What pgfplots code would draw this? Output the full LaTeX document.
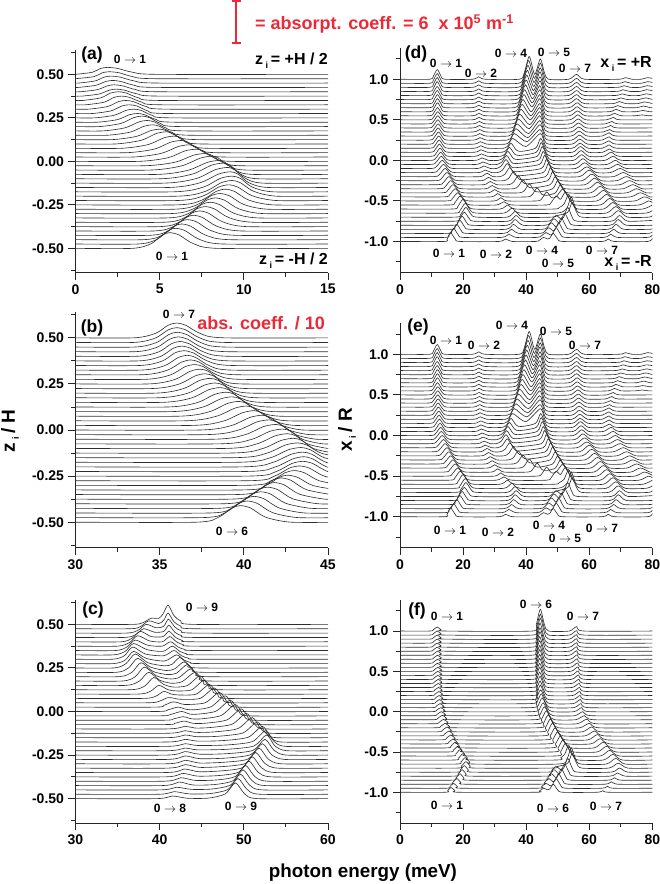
\documentclass[border=0pt]{standalone}
\usepackage{pgfplots}
\pgfplotsset{compat=1.18}
\usepackage{fontspec}
\setmainfont{Liberation Sans}
\definecolor{rd}{RGB}{237,40,55}
\definecolor{cv}{gray}{0.18}
\newcommand\W[2]{\addplot[cv,line width=.62pt,smooth,tension=.45,mark=none] table[row sep=\\,x index=0,y expr=\thisrowno{1}+#1]{#2};}
\newcommand\T[4][12]{\node[inner sep=0pt,font=\bfseries\fontsize{#1}{#1}\selectfont] at (#2pt,{884pt-#3pt}) {#4};}
\newcommand\Z{0 $\rightarrow$ }
\newcommand\Si{\,{\fontsize{9}{9}\selectfont\raisebox{-4pt}{i}}\,}
\pgfplotsset{pan/.style={scale only axis,anchor=south west,axis x line*=bottom,axis y line*=left,
 axis line style={-,black!85,line width=1pt},tick style={black!85,line width=.9pt},tick align=outside,
 major tick length=7pt,minor tick length=4pt,
 tick label style={font=\bfseries\fontsize{14}{14}\selectfont},/pgf/number format/assume math mode=true,
 xticklabel style={yshift=-1pt},yticklabel style={xshift=-1pt},
 scaled ticks=false},
 left/.style={pan,width=252.5pt,ymin=-.64,ymax=.64,ytick={-.5,-.25,0,.25,.5},
 minor ytick={-.625,-.375,-.125,.125,.375,.625},yticklabel style={/pgf/number format/fixed,/pgf/number format/fixed zerofill,/pgf/number format/precision=2}},
 right/.style={pan,width=252.3pt,xmin=0,xmax=80,ymin=-1.385,ymax=1.385,xtick={0,20,40,60,80},minor xtick={10,30,50,70},
 ytick={-1,-.5,0,.5,1},minor ytick={-1.25,-.75,-.25,.25,.75,1.25},yticklabel style={/pgf/number format/fixed,/pgf/number format/fixed zerofill,/pgf/number format/precision=1}}}
\newcommand\dataD{%
\W{1}{0 0\\9.4 0\\10.6 .04\\11.8 .12\\13 .04\\14.2 0\\23 0\\25 .03\\27 0\\37.8 0\\39.4 .08\\41 .28\\42.7 .06\\44.5 .25\\45.8 .08\\47.1 0\\53.5 0\\56 .06\\58.5 0\\69.5 0\\71.5 .02\\73.5 0\\76.5 0\\78.5 .02\\80 .01\\}
\W{.95}{0 0\\9.4 0\\10.6 .04\\11.8 .12\\13 .04\\14.2 0\\23 0\\25 .03\\27 0\\37.6 0\\39.2 .08\\40.8 .28\\42.6 .06\\44.5 .25\\45.8 .08\\47.1 0\\53.5 0\\56 .06\\58.5 0\\69.3 0\\71.3 .02\\73.3 0\\76.5 0\\78.5 .02\\80 .01\\}
\W{.9}{0 0\\9.4 0\\10.6 .04\\11.8 .12\\13 .04\\14.2 0\\23 0\\25 .03\\27 0\\37.4 0\\39 .08\\40.6 .27\\42.5 .06\\44.5 .24\\45.8 .07\\47.1 0\\53.5 0\\56 .06\\58.5 0\\69 0\\71 .02\\73 0\\76.3 0\\78.3 .02\\80 .01\\}
\W{.85}{0 0\\9.4 0\\10.6 .04\\11.8 .12\\13 .04\\14.2 0\\23 0\\25 .03\\27 0\\37.2 0\\38.8 .08\\40.4 .26\\42.4 .06\\44.4 .24\\45.7 .07\\47 0\\53.5 0\\56 .06\\58.5 0\\68.7 0\\70.7 .02\\72.7 0\\76.1 0\\78.1 .02\\80 .01\\}
\W{.8}{0 0\\9.4 0\\10.6 .04\\11.8 .11\\13 .04\\14.2 0\\23 0\\25 .03\\27 0\\37 0\\38.6 .07\\40.2 .25\\42.3 .06\\44.4 .23\\45.7 .07\\47 0\\53.5 0\\56 .06\\58.5 0\\68.4 0\\70.4 .02\\72.4 0\\76 0\\78 .02\\80 .005\\}
\W{.75}{0 0\\9.4 0\\10.6 .04\\11.8 .11\\13 .04\\14.2 0\\23 0\\25 .03\\27 0\\36.8 0\\38.4 .07\\40 .24\\42.2 .06\\44.4 .23\\45.7 .07\\47 0\\53.5 0\\56 .06\\58.5 0\\68 0\\70 .02\\72 0\\75.8 0\\77.8 .02\\80 0\\}
\W{.7}{0 0\\9.5 0\\10.7 .04\\11.9 .11\\13.1 .04\\14.3 0\\23 0\\25 .03\\27 0\\36.6 0\\38.2 .07\\39.8 .23\\42 .06\\44.3 .22\\45.6 .07\\46.9 0\\53.5 0\\56 .06\\58.5 0\\67.5 0\\69.5 .025\\71.5 0\\75.5 0\\77.5 .02\\80 0\\}
\W{.65}{0 0\\9.5 0\\10.7 .04\\11.9 .11\\13.1 .04\\14.3 0\\23 0\\25 .03\\27 0\\36.3 0\\37.9 .07\\39.5 .22\\41.9 .06\\44.3 .22\\45.6 .07\\46.9 0\\53.7 0\\56.2 .06\\58.7 0\\67 0\\69 .025\\71 0\\75.2 0\\77.2 .02\\79.2 0\\80 0\\}
\W{.6}{0 0\\9.5 0\\10.7 .04\\11.9 .11\\13.1 .04\\14.3 0\\23 0\\25 .03\\27 0\\36.1 0\\37.7 .06\\39.3 .21\\41.8 .06\\44.3 .21\\45.6 .06\\46.9 0\\53.7 0\\56.2 .06\\58.7 0\\66.5 0\\68.5 .03\\70.5 0\\75 0\\77 .015\\79 0\\80 0\\}
\W{.55}{0 0\\9.3 0\\10.6 .03\\11.9 .1\\13.2 .03\\14.5 0\\23.1 0\\25.1 .03\\27.1 0\\36 0\\37.5 .06\\39 .2\\41.6 .05\\44.3 .21\\45.6 .06\\46.9 0\\53.8 0\\56.3 .06\\58.8 0\\66 0\\68 .03\\70 0\\74.7 0\\76.7 .01\\78.7 0\\80 0\\}
\W{.5}{0 0\\9.2 0\\10.6 .03\\12 .1\\13.4 .03\\14.8 0\\23.1 0\\25.1 .03\\27.1 0\\35.9 0\\37.3 .06\\38.7 .19\\41.5 .05\\44.3 .2\\45.6 .06\\46.9 0\\53.9 0\\56.4 .06\\58.9 0\\65.6 0\\67.6 .03\\69.6 0\\80 0\\}
\W{.45}{0 0\\9.2 0\\10.6 .03\\12 .1\\13.4 .03\\14.8 0\\23.2 0\\25.2 .03\\27.2 0\\35.6 0\\37 .05\\38.4 .18\\41.3 .05\\44.3 .2\\45.6 .06\\46.9 0\\54 0\\56.5 .06\\59 0\\65.2 0\\67.2 .03\\69.2 0\\80 0\\}
\W{.4}{0 0\\9.2 0\\10.6 .03\\12 .1\\13.4 .03\\14.8 0\\23.2 0\\25.2 .03\\27.2 0\\35.2 0\\36.6 .05\\38 .17\\41.1 .04\\44.3 .2\\45.6 .06\\46.9 0\\54.1 0\\56.6 .06\\59.1 0\\64.8 0\\66.8 .03\\68.8 0\\80 0\\}
\W{.35}{0 0\\9.3 0\\10.7 .03\\12.1 .1\\13.5 .03\\14.9 0\\23.3 0\\25.3 .03\\27.3 0\\34.8 0\\36.2 .05\\37.6 .16\\40.9 .04\\44.3 .2\\45.6 .06\\46.9 0\\54.2 0\\56.7 .06\\59.2 0\\64.5 0\\66.5 .03\\68.5 0\\80 0\\}
\W{.3}{0 0\\9.3 0\\10.7 .03\\12.1 .1\\13.5 .03\\14.9 0\\23.3 0\\25.3 .03\\27.3 0\\34.4 0\\35.8 .05\\37.2 .15\\40.7 .03\\44.3 .19\\45.6 .06\\46.9 0\\54.3 0\\56.8 .06\\59.3 0\\64.1 0\\66.3 .04\\68.5 0\\80 0\\}
\W{.25}{0 0\\9.4 0\\10.8 .03\\12.2 .1\\13.6 .03\\15 0\\23.4 0\\25.4 .03\\27.4 0\\34 0\\35.4 .04\\36.8 .14\\40.5 .03\\44.4 .19\\45.7 .06\\47 0\\54.4 0\\56.9 .06\\59.4 0\\64.1 0\\66.3 .04\\68.5 0\\80 0\\}
\W{.2}{0 0\\9.5 0\\10.9 .03\\12.3 .1\\13.7 .03\\15.1 0\\23.5 0\\25.5 .03\\27.5 0\\33.5 0\\34.9 .04\\36.3 .13\\40.2 .03\\44.4 .18\\45.8 .05\\47.2 0\\54.5 0\\57 .06\\59.5 0\\64.1 0\\66.3 .04\\68.5 0\\80 0\\}
\W{.15}{0 0\\9.6 0\\11 .03\\12.4 .1\\13.8 .03\\15.2 0\\23.6 0\\25.6 .03\\27.6 0\\33 0\\34.4 .04\\35.8 .12\\39.9 .02\\44.5 .18\\45.9 .05\\47.3 0\\54.6 0\\57.1 .06\\59.6 0\\64.2 0\\66.4 .04\\68.6 0\\80 0\\}
\W{.1}{0 0\\9.7 0\\11.1 .03\\12.5 .1\\13.9 .03\\15.3 0\\23.7 0\\25.7 .03\\27.7 0\\32.4 0\\33.8 .03\\35.2 .11\\36.8 .03\\38.4 .01\\43 .05\\44.6 .17\\46.1 .05\\47.6 0\\54.7 0\\57.2 .07\\59.7 0\\64.3 0\\66.5 .04\\68.7 0\\80 0\\}
\W{.05}{0 0\\9.9 0\\11.3 .03\\12.7 .1\\14.1 .03\\15.5 0\\23.8 0\\25.8 .03\\27.8 0\\31.9 0\\33.3 .03\\34.7 .11\\36.3 .03\\37.9 .01\\43.2 .05\\44.8 .17\\46.3 .05\\47.8 0\\54.9 0\\57.4 .07\\59.9 0\\64.5 0\\67 .05\\69.5 0\\80 0\\}
\W{0}{0 0\\9.9 0\\11.4 .03\\12.9 .1\\14.4 .03\\15.9 0\\24 0\\26 .03\\28 0\\31.2 0\\32.7 .03\\34.2 .11\\35.8 .03\\37.4 .01\\43.5 .05\\45.1 .17\\46.7 .05\\48.3 0\\55 0\\57.6 .07\\60.2 0\\65 0\\67.6 .05\\70.2 0\\80 0\\}
\W{-.05}{0 0\\9.9 0\\11.5 .03\\13.1 .1\\14.7 .03\\16.3 0\\24.3 0\\26.3 .03\\28.3 0\\30.8 0\\32.3 .03\\33.8 .11\\35.3 .03\\36.8 .01\\43.8 .05\\45.4 .16\\47 .05\\48.6 0\\55.4 0\\58 .07\\60.6 0\\65.7 0\\68.3 .05\\70.9 0\\80 0\\}
\W{-.1}{0 0\\10 0\\11.7 .03\\13.4 .1\\15.1 .03\\16.8 0\\24.6 0\\26.6 .03\\28.6 0\\30.6 0\\32.1 .03\\33.6 .11\\35.1 .03\\36.6 .01\\44.2 .05\\45.8 .16\\47.4 .05\\49 0\\55.7 0\\58.5 .07\\61.3 0\\66.2 0\\69 .05\\71.8 0\\80 0\\}
\W{-.15}{0 0\\10.4 0\\12.1 .03\\13.8 .1\\15.5 .03\\17.2 0\\25 0\\27 .03\\29 0\\31 0\\32.5 .03\\34 .11\\35.5 .03\\37 .01\\44.8 .05\\46.4 .16\\48 .05\\49.6 0\\56.2 0\\59.2 .07\\62.2 0\\66.8 0\\69.8 .05\\72.8 0\\80 0\\}
\W{-.2}{0 0\\10.9 0\\12.6 .03\\14.3 .1\\16 .03\\17.7 0\\25.5 0\\27.5 .04\\29.5 0\\31.8 0\\33.3 .03\\34.8 .11\\36.3 .03\\37.8 .01\\45.4 .05\\47 .16\\48.6 .05\\50.2 0\\57 0\\60 .08\\63 0\\67.8 0\\70.8 .05\\73.8 0\\80 0\\}
\W{-.25}{0 0\\11.5 0\\13.2 .03\\14.9 .1\\16.6 .03\\18.3 0\\26 0\\28 .04\\30 0\\33 0\\34.5 .03\\36 .11\\37.5 .03\\39 .01\\46.1 .05\\47.7 .16\\49.3 .05\\50.9 0\\57.8 0\\60.8 .08\\63.8 0\\68.8 0\\71.8 .05\\74.8 0\\80 0\\}
\W{-.3}{0 0\\12.1 0\\13.8 .03\\15.5 .1\\17.2 .03\\18.9 0\\26.6 0\\28.6 .04\\30.6 0\\34.5 0\\36 .03\\37.5 .11\\39 .03\\40.5 .01\\46.8 .05\\48.4 .16\\50 .05\\51.6 0\\58.7 0\\61.7 .08\\64.7 0\\69.8 0\\72.8 .05\\75.8 0\\80 0\\}
\W{-.35}{0 0\\12.7 0\\14.4 .03\\16.1 .1\\17.8 .03\\19.5 0\\27.2 0\\29.2 .04\\31.2 0\\36 0\\37.5 .03\\39 .11\\40.5 .03\\42 .01\\47.6 .05\\49.2 .15\\50.8 .05\\52.4 0\\59.6 0\\62.6 .08\\65.6 0\\70.8 0\\73.8 .05\\76.8 0\\80 0\\}
\W{-.4}{0 0\\13.4 0\\15.1 .03\\16.8 .1\\18.5 .03\\20.2 0\\28 0\\30 .04\\32 0\\38 0\\39.5 .03\\41 .11\\42.5 .03\\44 .01\\48.4 .05\\50 .15\\51.6 .05\\53.2 0\\60.5 0\\63.5 .08\\66.5 0\\72 0\\75 .05\\78 0\\80 0\\}
\W{-.45}{0 0\\14.1 0\\15.8 .03\\17.5 .1\\19.2 .03\\20.9 0\\29 0\\31 .04\\33 0\\40.5 0\\42 .03\\43.5 .11\\45 .03\\46.6 .02\\49.3 .05\\50.9 .15\\52.5 .05\\54.1 0\\61.5 0\\64.5 .08\\67.5 0\\73.2 0\\76.2 .05\\79.2 0\\80 0\\}
\W{-.5}{0 0\\14.9 0\\16.6 .03\\18.3 .1\\20 .03\\21.7 0\\30 0\\32 .04\\34 0\\43.5 0\\45 .03\\46.5 .11\\48 .04\\49.5 .05\\51.7 .15\\53.3 .05\\54.9 0\\62.5 0\\65.5 .08\\68.5 0\\74.5 0\\77.5 .05\\80 .01\\}
\W{-.55}{0 0\\15.7 0\\17.4 .03\\19.1 .11\\20.8 .03\\22.5 0\\30.6 0\\33 .04\\35.4 0\\46.5 0\\48 .035\\49.5 .11\\50.9 .07\\52.5 .16\\54 .05\\55.6 0\\63.5 0\\66.5 .08\\69.5 0\\75.8 0\\78.8 .05\\80 .03\\}
\W{-.6}{0 0\\16.6 0\\18.3 .03\\20 .12\\21.7 .03\\23.4 0\\31.8 0\\34.2 .05\\36.6 0\\49 0\\50.5 .02\\52 .06\\53.5 .18\\54.9 .05\\56.5 0\\64.5 0\\67.5 .08\\70.5 0\\77 0\\80 .05\\}
\W{-.65}{0 0\\17.3 0\\19 .03\\20.7 .12\\22.4 .03\\24.1 0\\33 0\\35.5 .06\\38 0\\50 0\\52.9 .06\\54.3 .2\\55.7 .06\\57.3 0\\65.4 0\\68.4 .08\\71.4 0\\78 0\\80 .03\\}
\W{-.7}{0 0\\17.5 0\\19.2 .03\\20.9 .12\\22.6 .03\\24.3 0\\34 0\\36.5 .07\\39 0\\48 0\\50 .02\\53.2 .06\\54.6 .18\\56 .06\\57.6 0\\66.2 0\\69.2 .08\\72.2 0\\79 0\\80 .02\\}
\W{-.75}{0 0\\17.3 0\\18.8 .03\\20.4 .11\\22 .03\\23.5 0\\34.3 0\\36.8 .07\\39.3 0\\46.7 0\\48.1 .02\\49.5 .07\\51 .03\\51.9 .05\\53.2 .17\\54.6 .05\\56.2 0\\67 0\\69.6 .07\\72.2 0\\80 .01\\}
\W{-.8}{0 0\\16.7 0\\18.2 .03\\19.7 .11\\21.2 .03\\22.7 0\\34 0\\36.5 .07\\39 0\\46 0\\47.4 .02\\48.8 .08\\50.3 .03\\51 .05\\52.2 .15\\53.6 .05\\55.2 0\\66.6 0\\69.2 .07\\71.8 0\\80 0\\}
\W{-.85}{0 0\\16 0\\17.5 .03\\19 .11\\20.5 .03\\22 0\\33.6 0\\36 .06\\38.4 0\\45.2 0\\46.6 .02\\48 .08\\49.4 .03\\50 .05\\51.2 .14\\52.6 .04\\54.2 0\\66 0\\68.5 .06\\71 0\\79.2 0\\80 .01\\}
\W{-.9}{0 0\\15 0\\16.5 .03\\18 .11\\19.5 .03\\21 0\\33 0\\35.3 .05\\37.6 0\\44.4 0\\45.8 .02\\47.2 .07\\48.5 .03\\49.1 .04\\50.3 .13\\51.7 .04\\53.3 0\\65.3 0\\67.7 .05\\70.1 0\\78.8 0\\80 .02\\}
\W{-.95}{0 0\\14.2 0\\15.6 .03\\17 .11\\18.5 .03\\20 0\\32.2 0\\34.5 .04\\36.8 0\\43.5 0\\44.9 .02\\46.3 .06\\47.6 .03\\48.3 .04\\49.5 .12\\50.9 .04\\52.5 0\\64.6 0\\66.8 .04\\69 0\\78.5 0\\80 .03\\}
\W{-1}{0 0\\14 0\\14.9 .025\\16 .11\\17.5 .03\\19 0\\31.3 0\\33.5 .03\\35.7 0\\43 0\\44.2 .015\\45.5 .05\\46.8 .03\\47.5 .04\\48.6 .1\\50 .03\\51.6 0\\64 0\\66 .03\\68 0\\78.5 0\\80 .04\\}
}
\begin{document}
\begin{tikzpicture}[x=1pt,y=1pt]
\useasboundingbox (0,0) rectangle (660pt,884pt);
% ---------- (a)
\begin{axis}[left,at={(75.5pt,611.3pt)},height=222.7pt,xmin=0,xmax=15,xtick={0,5,10,15},minor xtick={2.5,7.5,12.5}]
\W{.5}{0 0\\1 .012\\1.5 .034\\1.9 .04\\2.5 .034\\3.4 .012\\4.9 0\\15 0\\}
\W{.475}{0 0\\1.1 .012\\1.6 .034\\2 .04\\2.6 .034\\3.4 .012\\4.8 0\\15 0\\}
\W{.45}{0 0\\0.2 0\\1.15 .012\\1.7 .034\\2.1 .04\\2.65 .034\\3.5 .012\\4.9 0\\15 0\\}
\W{.425}{0 0\\0.2 0\\1.2 .012\\1.8 .034\\2.2 .04\\2.7 .034\\3.5 .012\\4.8 0\\15 0\\}
\W{.4}{0 0\\0.3 0\\1.3 .012\\1.9 .034\\2.3 .04\\2.8 .034\\3.6 .012\\4.9 0\\15 0\\}
\W{.375}{0 0\\0.4 0\\1.4 .012\\2 .034\\2.4 .04\\2.9 .034\\3.7 .012\\5 0\\15 0\\}
\W{.35}{0 0\\0.45 0\\1.5 .015\\2.1 .043\\2.55 .05\\3 .043\\3.75 .015\\4.95 0\\15 0\\}
\W{.325}{0 0\\0.6 0\\1.7 .015\\2.3 .043\\2.75 .05\\3.2 .043\\3.95 .015\\5.1 0\\15 0\\}
\W{.3}{0 0\\0.8 0\\1.9 .015\\2.55 .043\\3 .05\\3.45 .043\\4.2 .015\\5.4 0\\15 0\\}
\W{.275}{0 0\\1 0\\2.1 .015\\2.75 .043\\3.2 .05\\3.65 .043\\4.3 .015\\5.4 0\\15 0\\}
\W{.25}{0 0\\1.15 0\\2.3 .015\\3 .043\\3.45 .05\\3.9 .043\\4.55 .015\\5.65 0\\15 0\\}
\W{.225}{0 0\\1.3 0\\2.5 .015\\3.2 .043\\3.7 .05\\4.1 .043\\4.8 .015\\5.9 0\\15 0\\}
\W{.2}{0 0\\1.45 0\\2.7 .018\\3.45 .051\\3.95 .06\\4.4 .051\\5.05 .018\\6.15 0\\15 0\\}
\W{.175}{0 0\\1.65 0\\2.95 .018\\3.75 .051\\4.25 .06\\4.7 .051\\5.35 .018\\6.45 0\\15 0\\}
\W{.15}{0 0\\1.9 0\\3.25 .018\\4.05 .051\\4.6 .06\\5 .051\\5.7 .018\\6.8 0\\15 0\\}
\W{.125}{0 0\\2.2 0\\3.6 .018\\4.45 .051\\5 .06\\5.4 .051\\6.1 .018\\7.2 0\\15 0\\}
\W{.1}{0 0\\2.4 0\\3.9 .021\\4.8 .06\\5.4 .07\\5.8 .06\\6.4 .021\\7.4 0\\15 0\\}
\W{.075}{0 0\\2.75 0\\4.3 .021\\5.25 .06\\5.85 .07\\6.25 .06\\6.85 .021\\7.85 0\\15 0\\}
\W{.05}{0 0\\3.1 0\\4.7 .021\\5.65 .06\\6.3 .07\\6.7 .06\\7.3 .021\\8.3 0\\15 0\\}
\W{.025}{0 0\\3.45 0\\5.1 .021\\6.1 .06\\6.75 .07\\7.15 .06\\7.75 .021\\8.75 0\\15 0\\}
\W{0}{0 0\\3.8 0\\5.5 .021\\6.5 .06\\7.2 .07\\7.6 .06\\8.2 .021\\9.2 0\\15 0\\}
\W{-.025}{0 0\\4.2 0\\5.95 .021\\7 .06\\7.7 .07\\8.1 .06\\8.7 .021\\9.7 0\\15 0\\}
\W{-.05}{0 0\\4.5 0\\6.3 .024\\7.4 .068\\8.1 .08\\8.5 .068\\9.1 .024\\10.1 0\\15 0\\}
\W{-.075}{0 0\\4.9 0\\6.7 .024\\7.8 .068\\8.5 .08\\8.9 .068\\9.5 .024\\10.5 0\\15 0\\}
\W{-.1}{0 0\\5.1 0\\6.95 .027\\8.05 .077\\8.8 .09\\9.2 .077\\9.8 .027\\10.8 0\\15 0\\}
\W{-.125}{0 0\\5.35 0\\7.2 .027\\8.3 .077\\9.05 .09\\9.45 .077\\10.1 .027\\11.1 0\\15 0\\}
\W{-.15}{0 0\\5.6 0\\7.4 .027\\8.5 .077\\9.2 .09\\9.65 .077\\10.3 .027\\11.4 0\\15 0\\}
\W{-.175}{0 0\\5.9 0\\7.6 .027\\8.6 .077\\9.3 .09\\9.8 .077\\10.5 .027\\11.7 0\\15 0\\}
\W{-.2}{0 0\\6.1 0\\7.7 .027\\8.65 .077\\9.3 .09\\9.8 .077\\10.6 .027\\11.9 0\\15 0\\}
\W{-.225}{0 0\\6.1 0\\7.6 .027\\8.5 .077\\9.1 .09\\9.65 .077\\10.5 .027\\11.9 0\\15 0\\}
\W{-.25}{0 0\\6.1 0\\7.5 .027\\8.35 .077\\8.9 .09\\9.45 .077\\10.3 .027\\11.7 0\\15 0\\}
\W{-.275}{0 0\\5.9 0\\7.25 .027\\8.05 .077\\8.6 .09\\9.15 .077\\10 .027\\11.4 0\\15 0\\}
\W{-.3}{0 0\\5.7 0\\7 .027\\7.8 .077\\8.3 .09\\8.85 .077\\9.7 .027\\11.1 0\\15 0\\}
\W{-.325}{0 0\\5.5 0\\6.75 .027\\7.5 .077\\8 .09\\8.55 .077\\9.4 .027\\10.8 0\\15 0\\}
\W{-.35}{0 0\\5.3 0\\6.5 .027\\7.2 .077\\7.7 .09\\8.25 .077\\9.1 .027\\10.5 0\\15 0\\}
\W{-.375}{0 0\\5.05 0\\6.2 .027\\6.9 .077\\7.35 .09\\7.9 .077\\8.75 .027\\10.15 0\\15 0\\}
\W{-.4}{0 0\\4.7 0\\5.85 .027\\6.55 .077\\7 .09\\7.55 .077\\8.4 .027\\9.8 0\\15 0\\}
\W{-.425}{0 0\\4.45 0\\5.55 .027\\6.2 .077\\6.65 .09\\7.2 .077\\8.05 .027\\9.45 0\\15 0\\}
\W{-.45}{0 0\\4.1 0\\5.2 .027\\5.85 .077\\6.3 .09\\6.85 .077\\7.7 .027\\9.1 0\\15 0\\}
\W{-.475}{0 0\\3.75 0\\4.85 .027\\5.5 .077\\5.95 .09\\6.5 .077\\7.35 .027\\8.75 0\\15 0\\}
\W{-.5}{0 0\\3.4 0\\4.5 .027\\5.15 .077\\5.6 .09\\6.15 .077\\7 .027\\8.4 0\\15 0\\}
\end{axis}
% ---------- (b)
\begin{axis}[left,at={(75.5pt,336pt)},height=236pt,xmin=30,xmax=45,xtick={30,35,40,45},minor xtick={32.5,37.5,42.5}]
\W{.5}{30 0\\33.5 0\\34.75 .024\\35.5 .068\\36 .08\\36.55 .068\\37.4 .024\\38.8 0\\46 0\\}
\W{.475}{30 0\\33.5 0\\34.75 .024\\35.5 .068\\36 .08\\36.55 .068\\37.4 .024\\38.8 0\\46 0\\}
\W{.45}{30 0\\33.55 0\\34.8 .024\\35.55 .068\\36.05 .08\\36.6 .068\\37.45 .024\\38.85 0\\46 0\\}
\W{.425}{30 0\\33.6 0\\34.85 .024\\35.6 .068\\36.1 .08\\36.65 .068\\37.5 .024\\38.9 0\\46 0\\}
\W{.4}{30 0\\33.7 0\\34.95 .024\\35.7 .068\\36.2 .08\\36.75 .068\\37.6 .024\\39 0\\46 0\\}
\W{.375}{30 0\\33.8 0\\35.05 .024\\35.8 .068\\36.3 .08\\36.85 .068\\37.7 .024\\39.1 0\\46 0\\}
\W{.35}{30 0\\33.85 0\\35.15 .024\\35.9 .068\\36.45 .08\\37 .068\\37.85 .024\\39.25 0\\46 0\\}
\W{.325}{30 0\\33.95 0\\35.3 .024\\36.1 .068\\36.65 .08\\37.15 .068\\37.95 .024\\39.25 0\\46 0\\}
\W{.3}{30 0\\34.05 0\\35.45 .024\\36.3 .068\\36.85 .08\\37.35 .068\\38.15 .024\\39.45 0\\46 0\\}
\W{.275}{30 0\\34.2 0\\35.65 .024\\36.5 .068\\37.1 .08\\37.6 .068\\38.4 .024\\39.7 0\\46 0\\}
\W{.25}{30 0\\34.4 0\\35.9 .024\\36.8 .068\\37.4 .08\\37.9 .068\\38.6 .024\\39.8 0\\46 0\\}
\W{.225}{30 0\\34.6 0\\36.15 .024\\37.1 .068\\37.7 .08\\38.2 .068\\38.9 .024\\40.1 0\\46 0\\}
\W{.2}{30 0\\34.8 0\\36.4 .024\\37.35 .068\\38 .08\\38.5 .068\\39.2 .024\\40.4 0\\46 0\\}
\W{.175}{30 0\\35 0\\36.65 .024\\37.65 .068\\38.3 .08\\38.8 .068\\39.5 .024\\40.7 0\\46 0\\}
\W{.15}{30 0\\35.2 0\\36.9 .024\\37.9 .068\\38.6 .08\\39.1 .068\\39.8 .024\\41 0\\46 0\\}
\W{.125}{30 0\\35.55 0\\37.25 .024\\38.25 .068\\38.95 .08\\39.45 .068\\40.15 .024\\41.35 0\\46 0\\}
\W{.1}{30 0\\35.8 0\\37.55 .024\\38.6 .068\\39.3 .08\\39.8 .068\\40.5 .024\\41.7 0\\46 0\\}
\W{.075}{30 0\\36.2 0\\37.95 .024\\39 .068\\39.7 .08\\40.2 .068\\40.9 .024\\42.1 0\\46 0\\}
\W{.05}{30 0\\36.55 0\\38.35 .024\\39.45 .068\\40.15 .08\\40.65 .068\\41.35 .024\\42.55 0\\46 0\\}
\W{.025}{30 0\\37 0\\38.8 .024\\39.9 .068\\40.6 .08\\41.1 .068\\41.8 .024\\43 0\\46 0\\}
\W{0}{30 0\\37.4 0\\39.25 .024\\40.35 .068\\41.1 .08\\41.6 .068\\42.3 .024\\43.5 0\\46 0\\}
\W{-.025}{30 0\\37.8 0\\39.65 .024\\40.75 .068\\41.5 .08\\42 .068\\42.7 .024\\43.9 0\\46 0\\}
\W{-.05}{30 0\\38.2 0\\40.05 .024\\41.15 .068\\41.9 .08\\42.4 .068\\43.1 .024\\44.3 0\\46 0\\}
\W{-.075}{30 0\\38.6 0\\40.45 .024\\41.55 .068\\42.3 .08\\42.8 .068\\43.5 .024\\44.7 0\\46 0\\}
\W{-.1}{30 0\\38.9 0\\40.75 .024\\41.85 .068\\42.6 .08\\43.1 .068\\43.8 .024\\45 0\\46 0\\}
\W{-.125}{30 0\\39.25 0\\41.1 .024\\42.2 .068\\42.95 .08\\43.45 .068\\44.15 .024\\45.35 0\\46 0\\}
\W{-.15}{30 0\\39.5 0\\41.35 .024\\42.45 .068\\43.2 .08\\43.75 .068\\44.6 .024\\46 0\\}
\W{-.175}{30 0\\39.7 0\\41.55 .024\\42.65 .068\\43.4 .08\\43.95 .068\\44.8 .024\\46.2 0\\}
\W{-.2}{30 0\\39.9 0\\41.7 .024\\42.8 .068\\43.5 .08\\44.05 .068\\44.9 .024\\46.3 0\\}
\W{-.225}{30 0\\40.15 0\\41.85 .024\\42.9 .068\\43.55 .08\\44.1 .068\\44.95 .024\\46.35 0\\}
\W{-.25}{30 0\\40.3 0\\41.9 .024\\42.85 .068\\43.5 .08\\44.1 .068\\45 .024\\46.5 0\\}
\W{-.275}{30 0\\40.3 0\\41.8 .024\\42.7 .068\\43.3 .08\\43.9 .068\\44.8 .024\\46.3 0\\}
\W{-.3}{30 0\\40.2 0\\41.6 .024\\42.45 .068\\43 .08\\43.6 .068\\44.5 .024\\46 0\\}
\W{-.325}{30 0\\40 0\\41.3 .024\\42.1 .068\\42.6 .08\\43.2 .068\\44.1 .024\\45.6 0\\46 0\\}
\W{-.35}{30 0\\39.6 0\\40.9 .027\\41.7 .077\\42.2 .09\\42.8 .077\\43.7 .027\\45.2 0\\46 0\\}
\W{-.375}{30 0\\39.2 0\\40.5 .027\\41.3 .077\\41.8 .09\\42.4 .077\\43.3 .027\\44.8 0\\46 0\\}
\W{-.4}{30 0\\38.8 0\\40.1 .027\\40.9 .077\\41.4 .09\\42 .077\\42.9 .027\\44.4 0\\46 0\\}
\W{-.425}{30 0\\38.4 0\\39.7 .027\\40.5 .077\\41 .09\\41.6 .077\\42.5 .027\\44 0\\46 0\\}
\W{-.45}{30 0\\38 0\\39.3 .027\\40.1 .077\\40.6 .09\\41.2 .077\\42.1 .027\\43.6 0\\46 0\\}
\W{-.475}{30 0\\37.6 0\\38.9 .027\\39.7 .077\\40.2 .09\\40.8 .077\\41.7 .027\\43.2 0\\46 0\\}
\W{-.5}{30 0\\37.2 0\\38.5 .027\\39.3 .077\\39.8 .09\\40.4 .077\\41.3 .027\\42.8 0\\46 0\\}
\end{axis}
% ---------- (c)
\begin{axis}[left,at={(75.5pt,61pt)},height=223pt,xmin=30,xmax=60,xtick={30,40,50,60},minor xtick={35,45,55}]
\W{.5}{30 0\\36.8 0\\38 .01\\39 .035\\39.9 .035\\40.4 .06\\41 .11\\41.7 .05\\42.5 .02\\44 0\\60 0\\}
\W{.475}{30 0\\36.5 0\\37.7 .012\\38.7 .045\\39.9 .03\\40.5 .05\\41 .09\\41.7 .04\\42.5 .015\\44 0\\60 0\\}
\W{.45}{30 0\\36 0\\37.4 .015\\38.4 .05\\39.6 .03\\40.5 .04\\41.05 .08\\41.8 .035\\42.6 .012\\44 0\\60 0\\}
\W{.425}{30 0\\35.8 0\\37.1 .015\\38.1 .05\\39.4 .03\\40.5 .035\\41.1 .07\\41.8 .03\\42.6 .01\\44 0\\60 0\\}
\W{.4}{30 0\\35.4 0\\36.7 .02\\37.7 .06\\39 .03\\40.4 .03\\41.1 .06\\41.9 .025\\42.7 .008\\44 0\\60 0\\}
\W{.375}{30 0\\35 0\\36.4 .02\\37.4 .06\\38.8 .03\\40.3 .025\\41.2 .055\\42 .025\\42.8 .008\\44.2 0\\60 0\\}
\W{.35}{30 0\\34.8 0\\36.1 .02\\37.1 .06\\38.6 .03\\40.3 .025\\41.3 .05\\42.2 .02\\43 .006\\44.4 0\\60 0\\}
\W{.325}{30 0\\34.5 0\\35.9 .02\\36.9 .065\\38.5 .03\\40.4 .02\\41.5 .05\\42.4 .02\\43.2 .006\\44.6 0\\60 0\\}
\W{.3}{30 0\\34.4 0\\35.8 .02\\36.8 .07\\38.3 .03\\40.5 .02\\41.7 .05\\42.6 .02\\43.4 .006\\44.8 0\\60 0\\}
\W{.275}{30 0\\34.5 0\\35.9 .02\\36.9 .07\\38.4 .03\\40.6 .015\\42 .05\\42.9 .02\\43.7 .006\\45 0\\60 0\\}
\W{.25}{30 0\\34.6 0\\36 .025\\37.1 .08\\38.6 .03\\40.6 .012\\41.5 .022\\42.4 .06\\43.4 .02\\44.6 0\\60 0\\}
\W{.225}{30 0\\34.9 0\\36.3 .025\\37.4 .08\\38.9 .03\\40.8 .01\\41.8 .02\\42.9 .06\\43.9 .02\\45.1 0\\60 0\\}
\W{.2}{30 0\\35.2 0\\36.7 .025\\37.8 .08\\39.2 .03\\40.9 .012\\42 .02\\43.3 .07\\44.3 .022\\45.5 0\\60 0\\}
\W{.175}{30 0\\35.6 0\\37.1 .025\\38.2 .08\\39.6 .03\\41.1 .012\\42.3 .02\\43.7 .07\\44.7 .022\\45.9 0\\60 0\\}
\W{.15}{30 0\\36 0\\37.6 .025\\38.7 .075\\40 .03\\41.4 .012\\42.7 .022\\44.2 .075\\45.2 .022\\46.4 0\\60 0\\}
\W{.125}{30 0\\36.6 0\\38.2 .02\\39.3 .07\\40.5 .03\\41.7 .015\\43.3 .024\\44.8 .08\\45.8 .024\\47 0\\60 0\\}
\W{.1}{30 0\\37.4 0\\38.9 .016\\39.9 .05\\41 .025\\42 .018\\43.8 .024\\45.3 .08\\46.3 .024\\47.5 0\\60 0\\}
\W{.075}{30 0\\38 0\\39.5 .012\\40.5 .04\\41.4 .025\\42.2 .02\\44.3 .024\\45.9 .08\\46.9 .024\\48.1 0\\60 0\\}
\W{.05}{30 0\\38.6 0\\40 .01\\41 .03\\41.8 .025\\42.5 .02\\44.8 .025\\46.5 .085\\47.5 .025\\48.7 0\\60 0\\}
\W{.025}{30 0\\39.5 0\\40.5 .01\\41.5 .03\\42.2 .025\\43 .015\\45.4 .025\\47.1 .085\\48.1 .025\\49.3 0\\60 0\\}
\W{0}{30 0\\39.8 0\\41 .01\\42.2 .025\\43.2 .012\\44.2 .01\\46.1 .027\\47.8 .09\\48.8 .027\\50 0\\60 0\\}
\W{-.025}{30 0\\40 0\\41.3 .008\\42.6 .025\\43.6 .01\\44.6 .01\\46.7 .027\\48.4 .09\\49.4 .027\\50.6 0\\60 0\\}
\W{-.05}{30 0\\40.5 0\\41.6 .007\\42.8 .02\\43.8 .008\\45 .008\\47.3 .027\\49 .09\\50 .027\\51.2 0\\60 0\\}
\W{-.075}{30 0\\40.7 0\\41.8 .007\\42.9 .02\\44 .007\\45.5 .008\\48 .027\\49.7 .09\\50.7 .027\\51.9 0\\60 0\\}
\W{-.1}{30 0\\41 0\\43 .015\\44.2 .005\\46 .008\\48.6 .027\\50.3 .09\\51.3 .027\\52.5 0\\60 0\\}
\W{-.125}{30 0\\41 0\\43 .015\\44.2 .005\\46.5 .008\\49.3 .027\\51 .09\\52 .027\\53.2 0\\60 0\\}
\W{-.15}{30 0\\41 0\\43 .015\\44.5 .005\\47 .008\\49.9 .027\\51.6 .09\\52.6 .027\\53.8 0\\60 0\\}
\W{-.175}{30 0\\41 0\\43 .015\\44.5 .005\\47.5 .008\\50.5 .027\\52.2 .09\\53.2 .027\\54.4 0\\60 0\\}
\W{-.2}{30 0\\41 0\\43 .015\\44.5 .005\\48 .008\\51 .027\\52.6 .09\\53.6 .027\\54.9 0\\60 0\\}
\W{-.225}{30 0\\41 0\\43 .015\\44.5 .005\\48 .008\\51.2 .027\\52.7 .09\\53.7 .027\\55.1 0\\60 0\\}
\W{-.25}{30 0\\41 0\\43 .02\\44.7 .005\\48 .008\\51.1 .027\\52.5 .09\\53.6 .027\\55 0\\60 0\\}
\W{-.275}{30 0\\41 0\\43 .02\\44.8 .004\\48 .008\\50.8 .027\\52.2 .09\\53.3 .027\\54.8 0\\60 0\\}
\W{-.3}{30 0\\41 0\\43 .02\\44.8 .004\\48 .01\\50.5 .027\\51.8 .09\\52.9 .027\\54.4 0\\60 0\\}
\W{-.325}{30 0\\41 0\\43 .02\\44.8 .004\\47.8 .01\\50.2 .027\\51.4 .09\\52.5 .027\\54 0\\60 0\\}
\W{-.35}{30 0\\41 0\\42.9 .02\\44.7 .004\\47.5 .01\\49.8 .027\\51 .09\\52.1 .027\\53.6 0\\60 0\\}
\W{-.375}{30 0\\40.8 0\\42.7 .02\\44.5 .004\\47.2 .008\\49.4 .027\\50.6 .09\\51.7 .027\\53.2 0\\60 0\\}
\W{-.4}{30 0\\40.6 0\\42.5 .02\\44.3 .004\\47 .008\\49 .027\\50.2 .09\\51.3 .027\\52.8 0\\60 0\\}
\W{-.425}{30 0\\40.4 0\\42.3 .02\\44 .003\\46.6 .006\\48.7 .027\\49.9 .09\\51 .027\\52.5 0\\60 0\\}
\W{-.45}{30 0\\40.1 0\\42 .015\\43.8 .003\\46.2 .005\\48.4 .027\\49.6 .09\\50.7 .027\\52.2 0\\60 0\\}
\W{-.475}{30 0\\39.9 0\\41.7 .015\\43.5 .002\\46 .004\\48.1 .027\\49.3 .09\\50.4 .027\\51.9 0\\60 0\\}
\W{-.5}{30 0\\39.7 0\\41.5 .015\\43.3 .002\\45.8 .003\\47.8 .027\\49 .09\\50.1 .027\\51.6 0\\60 0\\}
\end{axis}
% ---------- (d)
\begin{axis}[right,at={(400pt,611.3pt)},height=224.7pt]
\dataD
\end{axis}
% ---------- (e)
\begin{axis}[right,at={(400pt,336pt)},height=225pt]
\dataD
\end{axis}
% ---------- (f)
\begin{axis}[right,at={(400pt,60.7pt)},height=223.3pt]
\W{1}{0 0\\9.4 0\\10.6 .017\\11.8 .05\\13 .017\\14.2 0\\41.9 0\\43.2 .08\\44.5 .27\\45.8 .08\\47.1 0\\53.7 0\\56 .055\\58.3 0\\80 0\\}
\W{.95}{0 0\\9.4 0\\10.6 .017\\11.8 .05\\13 .017\\14.2 0\\41.9 0\\43.2 .08\\44.5 .26\\45.8 .08\\47.1 0\\53.7 0\\56 .055\\58.3 0\\80 0\\}
\W{.9}{0 0\\9.4 0\\10.6 .017\\11.8 .05\\13 .017\\14.2 0\\41.9 0\\43.2 .08\\44.5 .26\\45.8 .08\\47.1 0\\53.7 0\\56 .055\\58.3 0\\80 0\\}
\W{.85}{0 0\\9.4 0\\10.6 .017\\11.8 .05\\13 .017\\14.2 0\\41.9 0\\43.2 .07\\44.4 .25\\45.7 .07\\47 0\\53.7 0\\56 .055\\58.3 0\\80 0\\}
\W{.8}{0 0\\9.4 0\\10.6 .017\\11.8 .05\\13 .017\\14.2 0\\41.8 0\\43.1 .07\\44.4 .24\\45.7 .07\\47 0\\53.7 0\\56 .055\\58.3 0\\80 0\\}
\W{.75}{0 0\\9.4 0\\10.6 .017\\11.8 .05\\13 .017\\14.2 0\\41.8 0\\43.1 .07\\44.4 .24\\45.7 .07\\47 0\\53.7 0\\56 .055\\58.3 0\\80 0\\}
\W{.7}{0 0\\9.5 0\\10.7 .017\\11.9 .05\\13.1 .017\\14.3 0\\41.7 0\\43 .07\\44.3 .23\\45.6 .07\\46.9 0\\53.7 0\\56 .055\\58.3 0\\80 0\\}
\W{.65}{0 0\\9.5 0\\10.7 .017\\11.9 .05\\13.1 .017\\14.3 0\\41.7 0\\43 .07\\44.3 .23\\45.6 .07\\46.9 0\\53.9 0\\56.2 .055\\58.5 0\\80 0\\}
\W{.6}{0 0\\9.5 0\\10.7 .017\\11.9 .05\\13.1 .017\\14.3 0\\41.7 0\\43 .06\\44.3 .22\\45.6 .06\\46.9 0\\53.9 0\\56.2 .055\\58.5 0\\80 0\\}
\W{.55}{0 0\\9.5 0\\10.7 .017\\11.9 .05\\13.1 .017\\14.3 0\\41.7 0\\43 .06\\44.3 .22\\45.6 .06\\46.9 0\\54 0\\56.3 .055\\58.6 0\\80 0\\}
\W{.5}{0 0\\9.6 0\\10.8 .017\\12 .05\\13.2 .017\\14.4 0\\41.7 0\\43 .06\\44.3 .21\\45.6 .06\\46.9 0\\54.1 0\\56.4 .055\\58.7 0\\80 0\\}
\W{.45}{0 0\\9.6 0\\10.8 .017\\12 .05\\13.2 .017\\14.4 0\\41.7 0\\43 .06\\44.3 .21\\45.6 .06\\46.9 0\\54.2 0\\56.5 .055\\58.8 0\\80 0\\}
\W{.4}{0 0\\9.6 0\\10.8 .017\\12 .05\\13.2 .017\\14.4 0\\41.7 0\\43 .06\\44.3 .2\\45.6 .06\\46.9 0\\54.3 0\\56.6 .055\\58.9 0\\80 0\\}
\W{.35}{0 0\\9.7 0\\10.9 .017\\12.1 .05\\13.3 .017\\14.5 0\\41.7 0\\43 .06\\44.3 .2\\45.6 .06\\46.9 0\\54.4 0\\56.7 .05\\59 0\\80 0\\}
\W{.3}{0 0\\9.7 0\\10.9 .017\\12.1 .05\\13.3 .017\\14.5 0\\41.7 0\\43 .06\\44.3 .19\\45.6 .06\\46.9 0\\54.5 0\\56.8 .05\\59.1 0\\80 0\\}
\W{.25}{0 0\\9.8 0\\11 .017\\12.2 .05\\13.4 .017\\14.6 0\\41.8 0\\43.1 .06\\44.4 .19\\45.7 .06\\47 0\\54.6 0\\56.9 .05\\59.2 0\\80 0\\}
\W{.2}{0 0\\9.9 0\\11.1 .017\\12.3 .05\\13.5 .017\\14.7 0\\41.8 0\\43.1 .05\\44.4 .18\\45.8 .05\\47.2 0\\54.7 0\\57 .05\\59.3 0\\80 0\\}
\W{.15}{0 0\\10 0\\11.2 .017\\12.4 .05\\13.6 .017\\14.8 0\\41.9 0\\43.2 .05\\44.5 .18\\45.9 .05\\47.3 0\\54.8 0\\57.1 .05\\59.4 0\\80 0\\}
\W{.1}{0 0\\10.1 0\\11.3 .017\\12.5 .05\\13.7 .017\\14.9 0\\41.4 0\\43 .05\\44.6 .17\\46.1 .05\\47.6 0\\54.9 0\\57.2 .05\\59.5 0\\80 0\\}
\W{.05}{0 0\\10.3 0\\11.5 .017\\12.7 .05\\13.9 .017\\15.1 0\\41.6 0\\43.2 .05\\44.8 .17\\46.3 .05\\47.8 0\\55.1 0\\57.4 .05\\59.7 0\\80 0\\}
\W{0}{0 0\\10.3 0\\11.6 .017\\12.9 .05\\14.2 .017\\15.5 0\\41.9 0\\43.5 .05\\45.1 .17\\46.7 .05\\48.3 0\\55.2 0\\57.6 .05\\60 0\\80 0\\}
\W{-.05}{0 0\\10.5 0\\11.8 .017\\13.1 .05\\14.4 .017\\15.7 0\\42.2 0\\43.8 .05\\45.4 .16\\47 .05\\48.6 0\\55.4 0\\58 .05\\60.6 0\\80 0\\}
\W{-.1}{0 0\\10.6 0\\12 .017\\13.4 .055\\14.8 .017\\16.2 0\\42.6 0\\44.2 .05\\45.8 .16\\47.4 .05\\49 0\\55.7 0\\58.5 .05\\61.3 0\\80 0\\}
\W{-.15}{0 0\\11 0\\12.4 .017\\13.8 .055\\15.2 .017\\16.6 0\\43.2 0\\44.8 .05\\46.4 .16\\48 .05\\49.6 0\\56.2 0\\59.2 .055\\62.2 0\\80 0\\}
\W{-.2}{0 0\\11.5 0\\12.9 .017\\14.3 .055\\15.7 .017\\17.1 0\\43.8 0\\45.4 .05\\47 .16\\48.6 .05\\50.2 0\\57 0\\60 .055\\63 0\\80 0\\}
\W{-.25}{0 0\\12.1 0\\13.5 .02\\14.9 .06\\16.3 .02\\17.7 0\\44.5 0\\46.1 .05\\47.7 .16\\49.3 .05\\50.9 0\\57.8 0\\60.8 .06\\63.8 0\\80 0\\}
\W{-.3}{0 0\\12.7 0\\14.1 .02\\15.5 .06\\16.9 .02\\18.3 0\\45.2 0\\46.8 .05\\48.4 .16\\50 .05\\51.6 0\\58.7 0\\61.7 .06\\64.7 0\\80 0\\}
\W{-.35}{0 0\\13.3 0\\14.7 .02\\16.1 .06\\17.5 .02\\18.9 0\\46 0\\47.6 .05\\49.2 .15\\50.8 .05\\52.4 0\\59.6 0\\62.6 .065\\65.6 0\\80 0\\}
\W{-.4}{0 0\\14 0\\15.4 .02\\16.8 .06\\18.2 .02\\19.6 0\\46.8 0\\48.4 .05\\50 .15\\51.6 .05\\53.2 0\\60.5 0\\63.5 .065\\66.5 0\\80 0\\}
\W{-.45}{0 0\\14.7 0\\16.1 .02\\17.5 .07\\18.9 .02\\20.3 0\\47.7 0\\49.3 .05\\50.9 .15\\52.5 .05\\54.1 0\\61.5 0\\64.5 .07\\67.5 0\\80 0\\}
\W{-.5}{0 0\\15.5 0\\16.9 .02\\18.3 .07\\19.7 .02\\21.1 0\\48.5 0\\50.1 .05\\51.7 .15\\53.3 .05\\54.9 0\\62.5 0\\65.5 .07\\68.5 0\\80 0\\}
\W{-.55}{0 0\\16.3 0\\17.7 .025\\19.1 .08\\20.5 .025\\21.9 0\\49.3 0\\50.9 .05\\52.5 .16\\54 .05\\55.6 0\\63.5 0\\66.5 .07\\69.5 0\\80 0\\}
\W{-.6}{0 0\\17.2 0\\18.6 .025\\20 .08\\21.4 .025\\22.8 0\\49.5 0\\51 .03\\52.2 .07\\53.5 .18\\54.9 .05\\56.5 0\\64.5 0\\67.5 .07\\70.5 0\\80 0\\}
\W{-.65}{0 0\\17.9 0\\19.3 .025\\20.7 .08\\22.1 .025\\23.5 0\\50 0\\52.9 .06\\54.3 .2\\55.7 .06\\57.3 0\\65.4 0\\68.4 .07\\71.4 0\\80 0\\}
\W{-.7}{0 0\\18.1 0\\19.5 .025\\20.9 .08\\22.3 .025\\23.7 0\\48 0\\50 .02\\53.2 .06\\54.6 .18\\56 .06\\57.6 0\\66.2 0\\69.2 .06\\72.2 0\\80 0\\}
\W{-.75}{0 0\\17.8 0\\19.1 .025\\20.4 .08\\21.7 .025\\23 0\\46.7 0\\48.1 .02\\49.5 .07\\51 .03\\51.9 .05\\53.2 .17\\54.6 .05\\56.2 0\\67 0\\69.6 .05\\72.2 0\\80 0\\}
\W{-.8}{0 0\\17.1 0\\18.4 .025\\19.7 .08\\21 .025\\22.3 0\\46 0\\47.4 .02\\48.8 .08\\50.3 .03\\51 .05\\52.2 .15\\53.6 .05\\55.2 0\\66.6 0\\69 .04\\71.4 0\\80 0\\}
\W{-.85}{0 0\\16.4 0\\17.7 .025\\19 .08\\20.3 .025\\21.6 0\\45.2 0\\46.6 .02\\48 .08\\49.4 .03\\50 .05\\51.2 .14\\52.6 .04\\54.2 0\\66 0\\68 .03\\70 0\\80 0\\}
\W{-.9}{0 0\\15.4 0\\16.7 .02\\18 .07\\19.3 .02\\20.6 0\\44.4 0\\45.8 .02\\47.2 .07\\48.5 .03\\49.1 .04\\50.3 .13\\51.7 .04\\53.3 0\\65 0\\67 .03\\69 0\\80 0\\}
\W{-.95}{0 0\\14.6 0\\15.8 .02\\17 .06\\18.2 .02\\19.4 0\\43.5 0\\44.9 .02\\46.3 .06\\47.6 .03\\48.3 .04\\49.5 .12\\50.9 .04\\52.5 0\\64 0\\65.8 .025\\67.6 0\\80 0\\}
\W{-1}{0 0\\14.4 0\\15.1 .02\\16.2 .06\\17.4 .02\\18.6 0\\43 0\\44.2 .015\\45.5 .05\\46.8 .03\\47.5 .04\\48.6 .1\\50 .03\\51.6 0\\62.5 0\\64.3 .02\\66.1 0\\80 0\\}
\end{axis}
% ---------- annotations
\draw[rd,line width=1.6pt] (236pt,883pt)--(236pt,841pt) (231.5pt,883pt)--(240.5pt,883pt) (231.5pt,841pt)--(240.5pt,841pt);
\node[anchor=west,inner sep=0pt,text=rd,font=\bfseries\fontsize{18}{18}\selectfont] at (255pt,860pt) {= absorpt. coeff. = 6\ \ x 10\textsuperscript{5} m\textsuperscript{-1}};
\node[anchor=east,inner sep=0pt,text=rd,font=\bfseries\fontsize{18}{18}\selectfont] at (325pt,561pt) {abs. coeff. / 10};
\T[17.5]{92}{55}{(a)}\T{130}{59}{\Z1}\T{172}{256}{\Z1}
\node[anchor=east,inner sep=0pt,font=\bfseries\fontsize{16}{16}\selectfont] at (328pt,823pt) {z\Si = +H / 2};
\node[anchor=east,inner sep=0pt,font=\bfseries\fontsize{16}{16}\selectfont] at (328pt,623pt) {z\Si = -H / 2};
\T[17.5]{92}{328}{(b)}\T{179}{314}{\Z7}\T{232}{531}{\Z6}
\T[17.5]{93}{610}{(c)}\T{202}{607}{\Z9}\T{170}{808}{\Z8}\T{241}{806}{\Z9}
\T[17.5]{416}{54}{(d)}\T{446}{63}{\Z1}\T{481}{73}{\Z2}\T{511}{53}{\Z4}\T{554}{52}{\Z5}\T{575}{68}{\Z7}
\T{449}{253}{\Z1}\T{496}{254}{\Z2}\T{542}{250}{\Z4}\T{558}{263}{\Z5}\T{602}{250}{\Z7}
\node[anchor=east,inner sep=0pt,font=\bfseries\fontsize{16}{16}\selectfont] at (652pt,820pt) {x\Si = +R};
\node[anchor=east,inner sep=0pt,font=\bfseries\fontsize{16}{16}\selectfont] at (652pt,621pt) {x\Si = -R};
\T[17.5]{418}{327}{(e)}\T{512}{325}{\Z4}\T{556}{331}{\Z5}\T{446}{340}{\Z1}\T{484}{345}{\Z2}\T{585}{345}{\Z7}
\T{450}{530}{\Z1}\T{498}{532}{\Z2}\T{549}{525}{\Z4}\T{565}{538}{\Z5}\T{602}{528}{\Z7}
\T[17.5]{417}{611}{(f)}\T{447}{616}{\Z1}\T{536}{604}{\Z6}\T{583}{616}{\Z7}
\T{447}{805}{\Z1}\T{553}{808}{\Z6}\T{606}{806}{\Z7}
\node[rotate=90,inner sep=0pt,font=\bfseries\fontsize{19}{19}\selectfont] at (10pt,453pt) {z\Si / H};
\node[rotate=90,inner sep=0pt,font=\bfseries\fontsize{19}{19}\selectfont] at (347pt,454pt) {x\Si / R};
\node[inner sep=0pt,font=\bfseries\fontsize{18.8}{18.8}\selectfont] at (363pt,11pt) {photon energy (meV)};
\end{tikzpicture}
\end{document}
